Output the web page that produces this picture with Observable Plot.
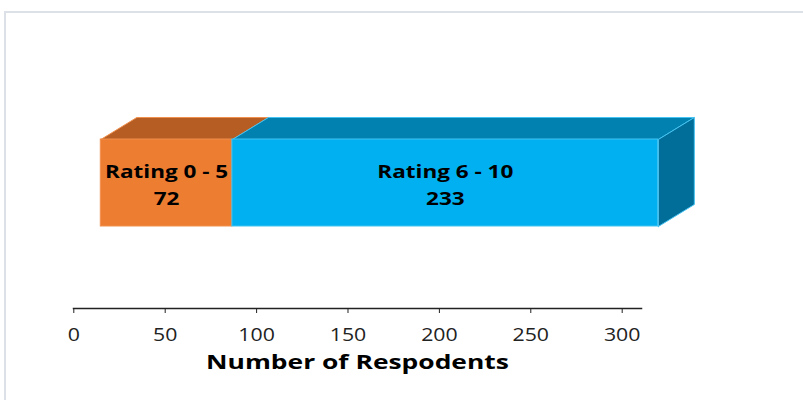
<!DOCTYPE html>
<html>
<head>
<meta charset="utf-8">
<script src="https://cdn.jsdelivr.net/npm/d3@7"></script>
<script src="https://cdn.jsdelivr.net/npm/@observablehq/plot@0.6"></script>
<style>
  html, body { margin: 0; padding: 0; background: #fff; }
  #wrap { position: relative; width: 803px; height: 400px; overflow: hidden; }
  #border { position: absolute; left: 4px; top: 11px; right: 0; bottom: 0;
            border-top: 2px solid #DCE1E7; border-left: 2px solid #DCE1E7; }
  #chart { position: absolute; left: 0; top: 0; }
</style>
</head>
<body>
<div id="wrap"><div id="border"></div><div id="chart"></div></div>
<script>
// ---- data ----
const categories = ["Rating 0 - 5", "Rating 6 - 10"];
const counts = [72, 233];
const tickValues = [0, 50, 100, 150, 200, 250, 300];
const axisTitle = "Number of Respodents";

// ---- style ----
const frontColors = ["#ED7D31", "#00B0F0"];
const topColors = ["#B55D23", "#0081B0"];
const sideColor = "#006E98";
const edgeColors = ["#F0904F", "#45C3F2"];

const xRange = [73.3, 640.7];
const xDomain = [0, 310.4];
const pxPerUnit = (xRange[1] - xRange[0]) / (xDomain[1] - xDomain[0]);
const frontPx = [226, 139];           // bottom, top of front face
const depthPx = [36, 22];             // 3D depth (right, up)
const frontShift = 27;                // front face offset from axis origin
const depthX = depthPx[0] / pxPerUnit;
const depthY = depthPx[1] / (frontPx[0] - frontPx[1]);
// horizontal stretch of the (wide, Calibri-like) lettering in the original
const stretch = {"bar-label": 1.25, "axis-title": 1.32, "x-axis tick label": 1.15};

// stacked segments built from the data arrays
let acc = 0;
const segments = categories.map((c, i) => {
  const s = {label: c, value: counts[i], x1: acc, x2: acc + counts[i], y1: 0, y2: 1,
             front: frontColors[i], top: topColors[i], edge: edgeColors[i]};
  acc += counts[i];
  return s;
});
const total = acc;

const faceMarks = [];
segments.forEach((s) => {
  const topFace = [
    {x: s.x1, y: 1}, {x: s.x2, y: 1},
    {x: s.x2 + depthX, y: 1 + depthY}, {x: s.x1 + depthX, y: 1 + depthY}, {x: s.x1, y: 1}
  ];
  faceMarks.push(Plot.line(topFace, {x: "x", y: "y", fill: s.top, stroke: s.edge, strokeWidth: 1, dx: frontShift, curve: "linear-closed"}));
});
const sideFace = [
  {x: total, y: 0}, {x: total, y: 1},
  {x: total + depthX, y: 1 + depthY}, {x: total + depthX, y: depthY}, {x: total, y: 0}
];
faceMarks.push(Plot.line(sideFace, {x: "x", y: "y", fill: sideColor, stroke: edgeColors[1], strokeWidth: 1, dx: frontShift, curve: "linear-closed"}));

const chart = Plot.plot({
  width: 803,
  height: 400,
  marginLeft: 73,
  marginRight: 162,
  marginTop: 0,
  marginBottom: 92,
  style: {background: "transparent", fontFamily: "'Open Sans', sans-serif", color: "#000"},
  x: {domain: xDomain, range: xRange},
  y: {domain: [0, 1], range: frontPx, axis: null},
  color: {type: "identity"},
  marks: [
    ...faceMarks,
    Plot.rect(segments, {x1: "x1", x2: "x2", y1: "y1", y2: "y2", fill: "front", stroke: "edge", strokeWidth: 1, dx: frontShift}),
    Plot.text(segments, {
      x: d => (d.x1 + d.x2) / 2, y: () => 0.5,
      text: d => d.label + "\n" + d.value,
      dx: frontShift, dy: 0, fontSize: 18, fontWeight: "bold", lineHeight: 1.52, fill: "#000",
      ariaLabel: () => "bar-label"
    }),
    Plot.frame({anchor: "bottom", stroke: "#222", strokeWidth: 1.5}),
    Plot.axisX({ticks: tickValues, tickSize: 5, tickPadding: 14, fontSize: 18.5, label: null, stroke: "#222", fill: "#222"}),
    Plot.text([axisTitle], {text: d => d, frameAnchor: "bottom", dy: 60, fontSize: 20, fontWeight: "bold", fill: "#000", ariaLabel: () => "axis-title"})
  ]
});
document.getElementById("chart").appendChild(chart);

// widen the lettering to match the original's stretched typeface
Object.entries(stretch).forEach(([label, k]) => {
  d3.select(chart).selectAll(`g[aria-label="${label}"] text, text[aria-label="${label}"]`).each(function () {
    const spans = this.querySelectorAll("tspan");
    const els = spans.length ? Array.from(spans) : [this];
    els.forEach(el => {
      const w = el.getComputedTextLength();
      el.setAttribute("textLength", (w * k).toFixed(1));
      el.setAttribute("lengthAdjust", "spacingAndGlyphs");
    });
  });
});
</script>
</body>
</html>
